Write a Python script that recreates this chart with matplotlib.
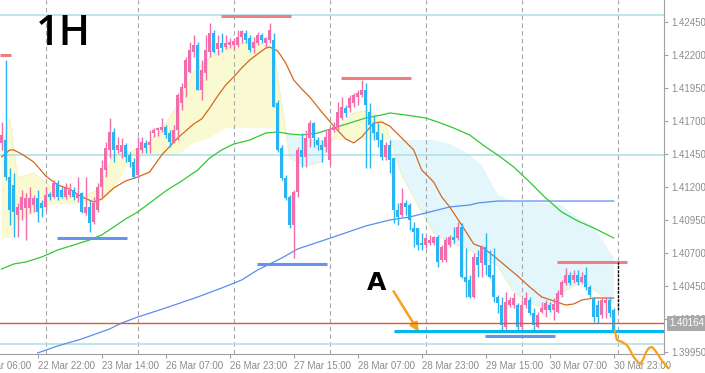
import numpy as np
import matplotlib.pyplot as plt
from matplotlib.transforms import blended_transform_factory

plt.rcParams['font.family'] = ['Liberation Sans', 'DejaVu Sans']

# 1H candles, oldest first (bar 0 = first visible bar)
opens = [
    1.41531, 1.41553, 1.41273, 1.41212, 1.40985, 1.41023, 1.41038, 1.41038, 1.41061, 1.41114,
    1.41076, 1.41046, 1.41144, 1.41122, 1.41228, 1.41175, 1.41122, 1.41137, 1.41175, 1.41114,
    1.41152, 1.41000, 1.41046, 1.40932, 1.41023, 1.41197, 1.41326, 1.41478, 1.41614, 1.41478,
    1.41462, 1.41516, 1.41440, 1.41387, 1.41288, 1.41478, 1.41531, 1.41516, 1.41606, 1.41629,
    1.41629, 1.41652, 1.41606, 1.41538, 1.41629, 1.41834, 1.41947, 1.42069, 1.42220, 1.42273,
    1.41932, 1.42061, 1.42220, 1.42364, 1.42243, 1.42288, 1.42258, 1.42273, 1.42273, 1.42273,
    1.42334, 1.42364, 1.42326, 1.42250, 1.42288, 1.42349, 1.42288, 1.42311, 1.42311, 1.41834,
    1.41493, 1.41266, 1.41122, 1.40909, 1.41159, 1.41478, 1.41425, 1.41569, 1.41682, 1.41553,
    1.41516, 1.41500, 1.41402, 1.41629, 1.41652, 1.41720, 1.41796, 1.41796, 1.41834, 1.41879,
    1.41894, 1.41932, 1.41766, 1.41682, 1.41614, 1.41553, 1.41425, 1.41516, 1.41417, 1.41023,
    1.40985, 1.41076, 1.41061, 1.40887, 1.40887, 1.40773, 1.40758, 1.40773, 1.40773, 1.40819,
    1.40644, 1.40644, 1.40758, 1.40819, 1.40811, 1.40894, 1.40515, 1.40493, 1.40364, 1.40667,
    1.40622, 1.40743, 1.40606, 1.40531, 1.40364, 1.40303, 1.40137, 1.40303, 1.40303, 1.40303,
    1.40137, 1.40303, 1.40341, 1.40243, 1.40137, 1.40250, 1.40266, 1.40303, 1.40266, 1.40250,
    1.40379, 1.40470, 1.40531, 1.40493, 1.40531, 1.40478, 1.40531, 1.40440, 1.40356, 1.40303,
    1.40228, 1.40319, 1.40341, 1.40266]
highs = [
    1.41690, 1.42159, 1.41341, 1.41303, 1.41076, 1.41175, 1.41152, 1.41197, 1.41137, 1.41175,
    1.41099, 1.41197, 1.41159, 1.41250, 1.41250, 1.41197, 1.41228, 1.41228, 1.41197, 1.41273,
    1.41159, 1.41273, 1.41099, 1.41122, 1.41228, 1.41402, 1.41538, 1.41720, 1.41644, 1.41576,
    1.41569, 1.41531, 1.41462, 1.41417, 1.41576, 1.41576, 1.41553, 1.41629, 1.41644, 1.41652,
    1.41720, 1.41667, 1.41629, 1.41667, 1.41909, 1.41985, 1.42182, 1.42296, 1.42349, 1.42296,
    1.42159, 1.42349, 1.42440, 1.42387, 1.42349, 1.42364, 1.42349, 1.42326, 1.42326, 1.42387,
    1.42387, 1.42387, 1.42349, 1.42334, 1.42372, 1.42364, 1.42334, 1.42440, 1.42364, 1.41856,
    1.41516, 1.41288, 1.41137, 1.41175, 1.41500, 1.41606, 1.41629, 1.41705, 1.41690, 1.41576,
    1.41553, 1.41629, 1.41652, 1.41690, 1.41841, 1.41879, 1.41819, 1.41894, 1.41909, 1.41932,
    1.42008, 1.41985, 1.41834, 1.41743, 1.41682, 1.41606, 1.41538, 1.41553, 1.41425, 1.41076,
    1.41190, 1.41099, 1.41076, 1.40932, 1.40887, 1.40849, 1.40819, 1.40834, 1.40826, 1.40834,
    1.40758, 1.40819, 1.40834, 1.40894, 1.40932, 1.40925, 1.40735, 1.40531, 1.40697, 1.40720,
    1.40758, 1.40849, 1.40720, 1.40735, 1.40379, 1.40364, 1.40402, 1.40364, 1.40394, 1.40319,
    1.40341, 1.40402, 1.40364, 1.40281, 1.40250, 1.40326, 1.40341, 1.40326, 1.40356, 1.40417,
    1.40493, 1.40584, 1.40553, 1.40569, 1.40569, 1.40553, 1.40591, 1.40455, 1.40364, 1.40341,
    1.40364, 1.40364, 1.40364, 1.40281]
lows = [
    1.41478, 1.41250, 1.40909, 1.40819, 1.40819, 1.40947, 1.40796, 1.41000, 1.41008, 1.40932,
    1.40970, 1.41023, 1.41099, 1.41114, 1.41099, 1.41114, 1.41106, 1.41122, 1.41099, 1.41084,
    1.41000, 1.40985, 1.40856, 1.40917, 1.41008, 1.41122, 1.41273, 1.41417, 1.41387, 1.41455,
    1.41417, 1.41387, 1.41349, 1.41266, 1.41266, 1.41455, 1.41455, 1.41455, 1.41576, 1.41584,
    1.41614, 1.41569, 1.41500, 1.41531, 1.41553, 1.41781, 1.41879, 1.42061, 1.42182, 1.41932,
    1.41856, 1.42008, 1.42182, 1.42212, 1.42197, 1.42220, 1.42243, 1.42250, 1.42243, 1.42258,
    1.42288, 1.42288, 1.42220, 1.42212, 1.42273, 1.42288, 1.42250, 1.42288, 1.41803, 1.41462,
    1.41250, 1.41099, 1.40887, 1.40659, 1.41122, 1.41349, 1.41349, 1.41500, 1.41500, 1.41478,
    1.41387, 1.41462, 1.41364, 1.41614, 1.41629, 1.41705, 1.41728, 1.41766, 1.41803, 1.41819,
    1.41879, 1.41341, 1.41341, 1.41553, 1.41500, 1.41402, 1.41402, 1.41303, 1.40925, 1.40909,
    1.40970, 1.40985, 1.40872, 1.40743, 1.40720, 1.40720, 1.40735, 1.40758, 1.40758, 1.40591,
    1.40629, 1.40629, 1.40743, 1.40773, 1.40796, 1.40508, 1.40364, 1.40356, 1.40356, 1.40515,
    1.40515, 1.40531, 1.40508, 1.40326, 1.40243, 1.40114, 1.40114, 1.40288, 1.40281, 1.40114,
    1.40114, 1.40281, 1.40228, 1.40114, 1.40129, 1.40243, 1.40212, 1.40250, 1.40190, 1.40243,
    1.40364, 1.40455, 1.40455, 1.40470, 1.40455, 1.40470, 1.40417, 1.40364, 1.40175, 1.40167,
    1.40205, 1.40205, 1.40212, 1.40091]
closes = [
    1.41591, 1.41273, 1.41023, 1.41008, 1.41046, 1.41122, 1.41114, 1.41114, 1.41114, 1.41008,
    1.41038, 1.41137, 1.41122, 1.41228, 1.41122, 1.41122, 1.41190, 1.41175, 1.41122, 1.41152,
    1.41008, 1.41046, 1.40925, 1.41076, 1.41197, 1.41341, 1.41493, 1.41614, 1.41478, 1.41516,
    1.41516, 1.41425, 1.41387, 1.41273, 1.41493, 1.41538, 1.41493, 1.41538, 1.41629, 1.41644,
    1.41652, 1.41591, 1.41538, 1.41629, 1.41894, 1.41955, 1.42159, 1.42235, 1.42273, 1.41932,
    1.42084, 1.42235, 1.42364, 1.42220, 1.42288, 1.42250, 1.42288, 1.42296, 1.42303, 1.42334,
    1.42379, 1.42311, 1.42235, 1.42296, 1.42349, 1.42311, 1.42326, 1.42387, 1.41803, 1.41478,
    1.41266, 1.41114, 1.40909, 1.41159, 1.41478, 1.41425, 1.41569, 1.41682, 1.41569, 1.41516,
    1.41478, 1.41576, 1.41629, 1.41652, 1.41766, 1.41803, 1.41758, 1.41872, 1.41894, 1.41909,
    1.41932, 1.41819, 1.41667, 1.41606, 1.41553, 1.41425, 1.41516, 1.41402, 1.41023, 1.40970,
    1.41076, 1.41046, 1.40947, 1.40856, 1.40758, 1.40758, 1.40811, 1.40796, 1.40819, 1.40629,
    1.40743, 1.40796, 1.40819, 1.40796, 1.40894, 1.40515, 1.40478, 1.40364, 1.40667, 1.40606,
    1.40743, 1.40606, 1.40515, 1.40364, 1.40319, 1.40152, 1.40326, 1.40341, 1.40356, 1.40137,
    1.40303, 1.40356, 1.40243, 1.40152, 1.40228, 1.40281, 1.40319, 1.40266, 1.40311, 1.40394,
    1.40478, 1.40531, 1.40470, 1.40531, 1.40478, 1.40515, 1.40440, 1.40379, 1.40212, 1.40212,
    1.40341, 1.40341, 1.40243, 1.40114]

# moving averages (bar index, price)
ema_bars = [0, 2, 3, 5, 8, 11, 14, 17, 20, 23, 25, 28, 31, 34, 37, 40, 44, 48, 50, 52,
            54, 56, 58, 60, 62, 64, 66, 67, 69, 71, 73, 75, 77, 80, 83, 86, 88, 90, 93, 95,
            97, 100, 103, 105, 108, 110, 112, 115, 118, 120, 123, 126, 129, 132, 135, 138,
            141, 143, 145, 148, 153]
ema_vals = [1.41425, 1.41478, 1.41478, 1.41447, 1.41387, 1.41281, 1.41212, 1.41182, 1.41122,
            1.41084, 1.41106, 1.41190, 1.41243, 1.41273, 1.41311, 1.41440, 1.41569, 1.41675,
            1.41713, 1.41796, 1.41887, 1.41970, 1.42031, 1.42099, 1.42159, 1.42205, 1.42250,
            1.42258, 1.42228, 1.42137, 1.42008, 1.41940, 1.41879, 1.41766, 1.41659, 1.41561,
            1.41531, 1.41576, 1.41682, 1.41690, 1.41659, 1.41569, 1.41478, 1.41326, 1.41235,
            1.41122, 1.41046, 1.40909, 1.40766, 1.40743, 1.40675, 1.40599, 1.40523, 1.40440,
            1.40364, 1.40334, 1.40303, 1.40311, 1.40341, 1.40356, 1.40356]
sma_mid_bars = [0, 3, 6, 10, 14, 18, 22, 25, 28, 31, 34, 37, 41, 45, 49, 52, 55, 58, 62, 66,
                69, 72, 75, 79, 83, 87, 91, 95, 97, 101, 106, 109, 113, 117, 121, 124, 128,
                132, 136, 140, 144, 148, 153]
sma_mid = [1.40576, 1.40614, 1.40629, 1.40667, 1.40720, 1.40758, 1.40796, 1.40834, 1.40894,
           1.40955, 1.41008, 1.41076, 1.41167, 1.41243, 1.41326, 1.41417, 1.41478, 1.41523,
           1.41553, 1.41606, 1.41614, 1.41599, 1.41591, 1.41606, 1.41644, 1.41682, 1.41720,
           1.41743, 1.41758, 1.41743, 1.41720, 1.41690, 1.41644, 1.41591, 1.41500, 1.41440,
           1.41349, 1.41235, 1.41114, 1.41008, 1.40940, 1.40887, 1.40811]
sma_slow_bars = [9, 14, 20, 27, 30, 34, 41, 49, 55, 60, 64, 70, 74, 83, 91, 97, 102, 107,
                 112, 117, 119, 124, 130, 140, 153]
sma_slow = [1.39940, 1.39993, 1.40046, 1.40122, 1.40167, 1.40212, 1.40281, 1.40364, 1.40432,
            1.40493, 1.40569, 1.40659, 1.40728, 1.40819, 1.40902, 1.40947, 1.40970, 1.41008,
            1.41046, 1.41061, 1.41076, 1.41091, 1.41091, 1.41091, 1.41091]

# ichimoku cloud spans
cloud_bars = [0, 2, 4, 8, 12, 16, 20, 24, 28, 32, 36, 40, 44, 48, 52, 56, 60, 64, 68, 72,
              76, 80, 84, 88, 92, 96, 100, 104, 108, 112, 116, 120, 124, 128, 132, 136, 140,
              144, 148, 152, 153]
span_a = [1.41478, 1.41720, 1.41266, 1.41303, 1.41205, 1.41129, 1.41114, 1.41175, 1.41440,
          1.41462, 1.41516, 1.41629, 1.41819, 1.42069, 1.42175, 1.42250, 1.42288, 1.42296,
          1.42235, 1.41417, 1.41356, 1.41387, 1.41644, 1.41758, 1.41781, 1.41667, 1.41288,
          1.41061, 1.40849, 1.40773, 1.40735, 1.40667, 1.40599, 1.40402, 1.40319, 1.40266,
          1.40402, 1.40462, 1.40417, 1.40341, 1.40326]
span_b = [1.40811, 1.40811, 1.40932, 1.41000, 1.41061, 1.41069, 1.41069, 1.41061, 1.41175,
          1.41387, 1.41440, 1.41440, 1.41440, 1.41531, 1.41569, 1.41644, 1.41644, 1.41644,
          1.41644, 1.41591, 1.41569, 1.41553, 1.41553, 1.41553, 1.41553, 1.41553, 1.41553,
          1.41553, 1.41553, 1.41523, 1.41462, 1.41364, 1.41137, 1.41084, 1.41084, 1.41076,
          1.41061, 1.40962, 1.40902, 1.40705, 1.40667]

# drawn objects
watch_levels = [1.42500, 1.41440, 1.40008]
support_levels = [1.40813, 1.40616, 1.40069]
support_from = [13.9, 63.8, 120.8]
support_to = [31.3, 81.3, 138.3]
resist_levels = [1.42200, 1.42493, 1.42025, 1.40631]
resist_from = [-0.4, 54.8, 84.8, 138.8]
resist_to = [2.3, 72.3, 102.3, 156.3]
bid = 1.40164
target_level = 1.40103
target_from = 98
spread_bar = 154.1
spread_range = [1.40266, 1.40629]

# projected path after the last bar
proj_bars = [153.3, 153.8, 155.1, 156.3, 157.1, 157.8, 158.8, 159.6, 160.3, 161.1, 161.8,
             162.6, 163.3, 164.3, 165.3, 166.6]
proj_prices = [1.40106, 1.40038, 1.40023, 1.40000, 1.39962, 1.39917, 1.39879, 1.39856,
               1.39887, 1.39947, 1.39978, 1.39985, 1.39962, 1.39917, 1.39871, 1.39826]

# axes labels
grid_bars = [11, 34, 58, 82, 106, 130, 154]
time_ticks = [9, 25, 41, 57, 73, 89, 105, 121, 137, 153]
time_labels = ['22 Mar 22:00', '23 Mar 14:00', '26 Mar 07:00', '26 Mar 23:00', '27 Mar 15:00',
               '28 Mar 07:00', '28 Mar 23:00', '29 Mar 15:00', '30 Mar 07:00', '30 Mar 23:00']
first_tick, first_label = -7, '22 Mar 06:00'
price_ticks = [1.39950, 1.40200, 1.40450, 1.40700, 1.40950, 1.41200, 1.41450, 1.41700,
               1.41950, 1.42200, 1.42450]

fig = plt.figure(figsize=(7.05, 3.73), dpi=100)
ax = fig.add_axes([0, 19 / 373, 664 / 705, 354 / 373])
ax.set_xlim(-0.425, 165.575)
ax.set_ylim(1.39932, 1.42614)

# cloud
a = np.array(span_a)
b = np.array(span_b)
ax.fill_between(cloud_bars, a, b, where=a >= b, interpolate=True, color='#fafad2', lw=0, zorder=1)
ax.fill_between(cloud_bars, a, b, where=a < b, interpolate=True, color='#e2f6fc', lw=0, zorder=1)
ax.plot(cloud_bars, a, color='#f3efbd', lw=0.7, zorder=1.1)

for g in grid_bars:
    ax.axvline(g, color='#a6a6a6', lw=0.8, ls=(0, (4, 3)), zorder=1.5)
for lvl in watch_levels:
    ax.axhline(lvl, color='#b0e0e6', lw=1.2, zorder=1.6)

# moving averages
ax.plot(sma_slow_bars, sma_slow, color='#5b8def', lw=0.9, zorder=2)
ax.plot(sma_mid_bars, sma_mid, color='#32c832', lw=0.9, zorder=2)
ax.plot(ema_bars, ema_vals, color='#d2691e', lw=0.9, zorder=2)

# candles
bars = np.arange(len(closes))
o = np.array(opens)
c = np.array(closes)
colors = np.where(c >= o, '#f26daa', '#29b5f3')
ax.vlines(bars, lows, highs, colors=colors, lw=1.0, zorder=3)
body = np.where(np.abs(c - o) < 0.00004, 0.00004, c - o)
ax.bar(bars, body, bottom=o, width=0.75, color=colors, lw=0, zorder=3)

# lines drawn on the chart
ax.axhline(bid, color='#e4572e', lw=1, zorder=4)
ax.hlines(support_levels, support_from, support_to, color='#6495ed', lw=2.2, zorder=4)
ax.hlines(resist_levels, resist_from, resist_to, color='#f08080', lw=2.2, zorder=4)
ax.hlines(target_level, target_from, 165.575, color='#00b8f0', lw=2.2, zorder=4.5)
ax.vlines(spread_bar, spread_range[0], spread_range[1], color='black', lw=1, ls=(0, (2, 1)), zorder=4)

ax.plot(proj_bars, proj_prices, color='#f7a21b', lw=1.6, clip_on=False, zorder=5)
ax.annotate('', xy=(104.6, 1.40084), xytext=(97.6, 1.40425),
            arrowprops=dict(arrowstyle='-|>', color='#f7a21b', lw=1.8, mutation_scale=12))
ax.text(93.8, 1.40470, 'A', fontsize=18, ha='center', va='center', color='black',
        family='DejaVu Sans', fontweight='bold')
fig.text(36 / 705, 1 - 45 / 373, '1H', fontsize=30, color='black', va='baseline',
         family='Open Sans', fontweight='semibold')

# axes styling
for side in ['top', 'left']:
    ax.spines[side].set_visible(False)
for side in ['right', 'bottom']:
    ax.spines[side].set_color('#a0a0a0')
ax.yaxis.tick_right()
ax.set_yticks(price_ticks)
ax.set_yticklabels([f'{p:.5f}' for p in price_ticks])
ax.set_xticks(time_ticks)
ax.set_xticklabels(time_labels, ha='left')
ax.tick_params(axis='both', color='#a0a0a0', labelcolor='#8c8c8c', length=3, width=0.8,
               labelsize=7, pad=2)
ax.annotate(first_label, xy=(first_tick, 0),
            xycoords=blended_transform_factory(ax.transData, ax.transAxes),
            xytext=(0, -5), textcoords='offset points', ha='left', va='top',
            fontsize=7, color='#8c8c8c', annotation_clip=False)
ax.annotate(f'{bid:.5f}', xy=(1, bid),
            xycoords=blended_transform_factory(ax.transAxes, ax.transData),
            xytext=(4, 0), textcoords='offset points', ha='left', va='center',
            fontsize=7, color='white', zorder=6, annotation_clip=False,
            bbox=dict(boxstyle='square,pad=0.25', fc='#a9a9a9', ec='none'))

plt.savefig('out.png', dpi=100)
